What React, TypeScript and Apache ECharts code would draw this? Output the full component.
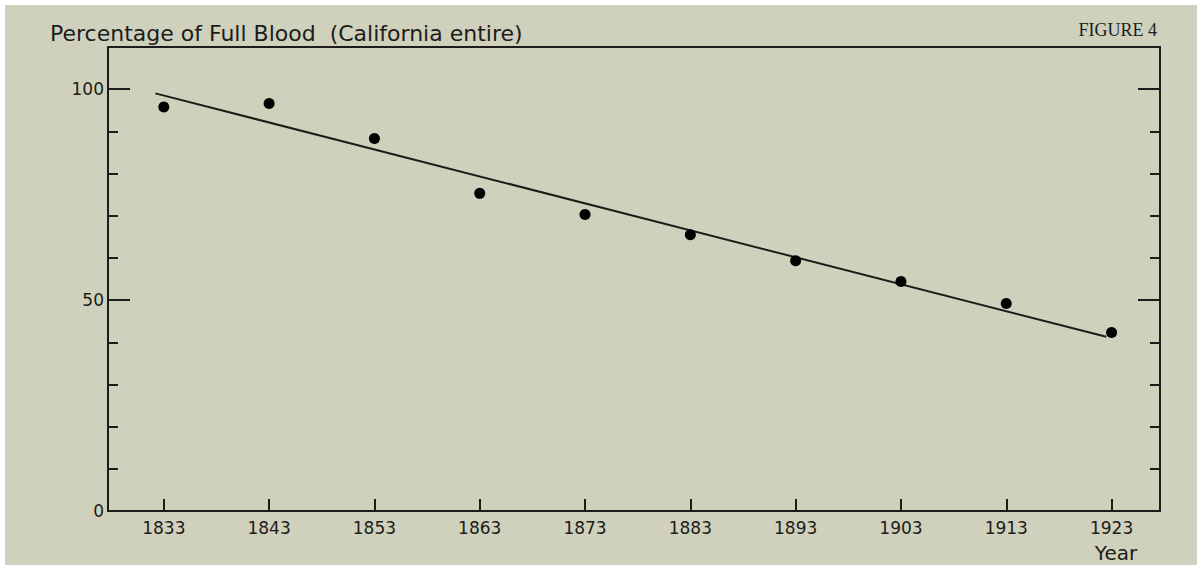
import React, { useEffect, useRef } from "react";
import * as echarts from "echarts";

// Census years and observed share of full-blood population (percent)
const years = [1833, 1843, 1853, 1863, 1873, 1883, 1893, 1903, 1913, 1923];
const fullBloodPct = [95.8, 96.6, 88.3, 75.3, 70.3, 65.5, 59.3, 54.4, 49.2, 42.3];

// Fitted straight-line trend (end points)
const trendYears = [1832.2, 1922.5];
const trendPct = [99.0, 41.3];

// Y axis tick layout
const yLabelValues = [0, 50, 100];
const yMinorTicks = [10, 20, 30, 40, 60, 70, 80, 90];
const yMajorTicks = [50, 100];

const INK = "#1c1c1a";
const SANS = "'DejaVu Sans', sans-serif";

export default function App() {
  const ref = useRef<HTMLDivElement>(null);

  useEffect(() => {
    document.body.style.margin = "0";
    const chart = echarts.init(ref.current!, undefined, { renderer: "svg" });

    const yBase = {
      type: "value" as const,
      gridIndex: 0,
      min: 0,
      max: 110,
      axisLine: { show: false },
      splitLine: { show: false },
    };

    chart.setOption({
      animation: false,
      backgroundColor: "#cfd1bc",
      title: {
        text: "Percentage of Full Blood  (California entire)",
        left: 45,
        top: 17,
        textStyle: {
          fontFamily: SANS,
          fontWeight: "normal",
          fontSize: 22,
          color: INK,
        },
      },
      grid: {
        show: true,
        left: 108,
        top: 47,
        width: 1052,
        height: 464,
        borderColor: INK,
        borderWidth: 2,
        backgroundColor: "transparent",
      },
      xAxis: {
        type: "value",
        min: 1827.7,
        max: 1927.6,
        axisLine: { show: false },
        splitLine: { show: false },
        axisTick: {
          show: true,
          inside: true,
          length: 12,
          customValues: years,
          lineStyle: { color: INK, width: 2 },
        },
        axisLabel: {
          customValues: years,
          margin: 8,
          fontFamily: SANS,
          fontSize: 17,
          color: INK,
          formatter: (v: number) => String(v),
        },
      },
      yAxis: [
        {
          ...yBase,
          position: "left",
          axisTick: {
            show: true,
            inside: true,
            length: 10,
            customValues: yMinorTicks,
            lineStyle: { color: INK, width: 2 },
          },
          axisLabel: {
            customValues: yLabelValues,
            margin: 4,
            fontFamily: SANS,
            fontSize: 17,
            color: INK,
          },
        },
        {
          ...yBase,
          position: "left",
          axisTick: {
            show: true,
            inside: true,
            length: 22,
            customValues: yMajorTicks,
            lineStyle: { color: INK, width: 2 },
          },
          axisLabel: { show: false },
        },
        {
          ...yBase,
          position: "right",
          axisTick: {
            show: true,
            inside: true,
            length: 10,
            customValues: yMinorTicks,
            lineStyle: { color: INK, width: 2 },
          },
          axisLabel: { show: false },
        },
        {
          ...yBase,
          position: "right",
          axisTick: {
            show: true,
            inside: true,
            length: 22,
            customValues: yMajorTicks,
            lineStyle: { color: INK, width: 2 },
          },
          axisLabel: { show: false },
        },
      ],
      series: [
        {
          type: "line",
          yAxisIndex: 0,
          data: trendYears.map((y, i) => [y, trendPct[i]]),
          showSymbol: false,
          lineStyle: { color: INK, width: 2 },
          z: 2,
        },
        {
          type: "scatter",
          yAxisIndex: 0,
          data: years.map((y, i) => [y, fullBloodPct[i]]),
          symbol: "circle",
          symbolSize: 11,
          itemStyle: { color: "#000000", opacity: 1 },
          z: 3,
        },
      ],
      graphic: [
        {
          type: "rect",
          shape: { x: 0, y: 0, width: 1197, height: 5 },
          style: { fill: "#ffffff" },
          silent: true,
        },
        {
          type: "rect",
          shape: { x: 0, y: 0, width: 5, height: 565 },
          style: { fill: "#ffffff" },
          silent: true,
        },
        {
          type: "text",
          x: 1157,
          y: 30,
          style: {
            text: "FIGURE 4",
            fontFamily: "'Liberation Serif', serif",
            fontSize: 18,
            fill: INK,
            textAlign: "right",
            textVerticalAlign: "middle",
          },
        },
        {
          type: "text",
          x: 1116,
          y: 553,
          style: {
            text: "Year",
            fontFamily: SANS,
            fontSize: 20,
            fill: INK,
            textAlign: "center",
            textVerticalAlign: "middle",
          },
        },
      ],
    });

    return () => chart.dispose();
  }, []);

  return (
    <div
      ref={ref}
      style={{ position: "fixed", left: 0, top: 0, width: 1197, height: 565 }}
    />
  );
}
